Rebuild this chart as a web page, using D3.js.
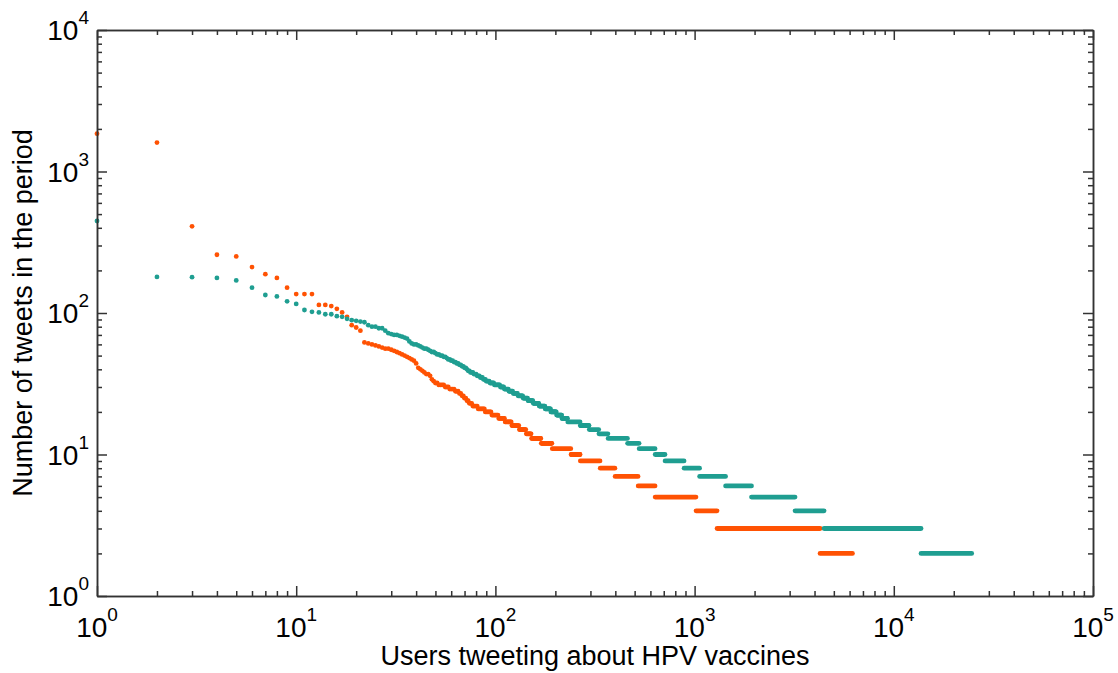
<!DOCTYPE html>
<html>
<head>
<meta charset="utf-8">
<script src="https://cdnjs.cloudflare.com/ajax/libs/d3/7.8.5/d3.min.js"></script>
<style>
  body { margin: 0; background: #fff; }
  text { font-family: "Liberation Sans", Arial, sans-serif; fill: #000; }
</style>
</head>
<body>
<svg id="chart" width="1118" height="673"></svg>
<script>
// rank plot: tweet count (descending) and how many users sent that many tweets
const orangeCounts = [1850, 1600, 410, 258, 251, 211, 188, 177, 151, 136, 114, 112, 107, 101, 94, 82, 79, 75,
  62, 61, 60, 59, 58, 57, 56, 55, 54, 53, 52, 51, 50, 49, 48, 47, 46, 44, 41, 40, 39, 38, 37, 36, 34, 33,
  32, 31, 30, 29, 28, 27, 26, 25, 24, 23, 22, 21, 20, 19, 18, 17, 16, 15, 14, 13, 12, 11, 10, 9, 8, 7, 6, 5, 4, 3, 2]
const orangeUsers = [1, 1, 1, 1, 1, 1, 1, 1, 1, 3, 2, 1, 1, 1, 1, 1, 1, 1,
  1, 1, 1, 1, 1, 1, 2, 1, 1, 1, 1, 1, 1, 1, 1, 1, 1, 1, 1, 1, 1, 1, 2, 1, 1, 1,
  2, 4, 3, 4, 3, 2, 2, 2, 2, 3, 5, 7, 7, 8, 8, 9, 11, 11, 9, 18, 23, 47, 27, 69, 63, 122, 113, 383, 280, 2969, 1935]

const tealCounts = [447, 180, 179, 177, 170, 151, 134, 131, 121, 116, 105, 102, 101, 98, 95, 94, 91, 89, 88, 87, 86, 82, 80, 78, 75,
  72, 71, 70, 69, 68, 67, 66, 63, 61, 60, 59, 58, 57, 56, 55, 54, 53, 52, 51, 50, 49, 48, 47, 46, 45, 44, 43, 42, 41, 40,
  39, 38, 37, 36, 35, 34, 33, 32, 31, 30, 29, 28, 27, 26, 25, 24, 23, 22, 21, 20, 19, 18, 17, 16, 15, 14, 13, 12, 11, 10,
  9, 8, 7, 6, 5, 4, 3, 2]
const tealUsers = [1, 1, 1, 1, 1, 1, 1, 1, 1, 1, 1, 1, 1, 2, 1, 1, 1, 1, 1, 1, 1, 1, 2, 2, 1,
  1, 1, 2, 1, 1, 1, 1, 1, 1, 2, 1, 1, 1, 2, 1, 1, 2, 1, 2, 2, 2, 1, 2, 2, 2, 2, 2, 2, 2, 1,
  2, 3, 3, 3, 3, 3, 4, 5, 7, 5, 6, 6, 7, 8, 8, 9, 11, 12, 12, 13, 13, 15, 36, 29, 35, 37, 93, 66, 107, 77,
  175, 174, 371, 500, 1263, 1273, 9234, 10900]

const xTickExps = [0, 1, 2, 3, 4, 5]
const yTickExps = [0, 1, 2, 3, 4]

const xTitle = 'Users tweeting about HPV vaccines'
const yTitle = 'Number of tweets in the period'

const WIDTH = 1118
const HEIGHT = 673
const MARGINS = { top: 30, right: 25, bottom: 77, left: 97 }
const DOT = 2.4
const ORANGE = '#ff5203'
const TEAL = '#1f9e91'
const AXIS = '#333'

const svg = d3.select('#chart')

const xScale = d3.scaleLog().domain([1, 1e5]).range([MARGINS.left, WIDTH - MARGINS.right])
const yScale = d3.scaleLog().domain([1, 1e4]).range([HEIGHT - MARGINS.bottom, MARGINS.top])

// turn the frequency table into rank ranges
function toSteps(counts, users) {
  let r = 1
  return counts.map((c, i) => {
    const s = { count: c, first: r, last: r + users[i] - 1 }
    r += users[i]
    return s
  })
}

function drawSeries(steps, color) {
  const g = svg.append('g')
  // short runs: one dot per user
  const pts = []
  steps.filter(s => s.last - s.first < 30).forEach(s => {
    d3.range(s.first, s.last + 1).forEach(r => pts.push({ rank: r, count: s.count }))
  })
  g.selectAll('circle').data(pts).join('circle')
    .attr('cx', d => xScale(d.rank))
    .attr('cy', d => yScale(d.count))
    .attr('r', DOT)
    .attr('fill', color)
  // long runs: dots merge into a bar
  g.selectAll('line').data(steps.filter(s => s.last - s.first >= 30)).join('line')
    .attr('x1', d => xScale(d.first))
    .attr('x2', d => xScale(d.last))
    .attr('y1', d => yScale(d.count))
    .attr('y2', d => yScale(d.count))
    .attr('stroke', color)
    .attr('stroke-width', DOT * 2)
    .attr('stroke-linecap', 'round')
}

drawSeries(toSteps(orangeCounts, orangeUsers), ORANGE)
drawSeries(toSteps(tealCounts, tealUsers), TEAL)

// axes on all four sides, ticks pointing inward
const xAll = xScale.ticks()
const yAll = yScale.ticks()
const xMajor = xTickExps.map(e => Math.pow(10, e))
const yMajor = yTickExps.map(e => Math.pow(10, e))
const xMinor = xAll.filter(v => xMajor.indexOf(v) < 0)
const yMinor = yAll.filter(v => yMajor.indexOf(v) < 0)

const bottom = HEIGHT - MARGINS.bottom
const right = WIDTH - MARGINS.right

function addAxis(axisFn, scale, transform, values, size) {
  const g = svg.append('g')
    .attr('transform', transform)
    .call(axisFn(scale).tickValues(values).tickSize(-size).tickSizeOuter(0).tickFormat(''))
  g.selectAll('line').attr('stroke', AXIS).attr('stroke-width', 1.5)
  g.select('.domain').attr('stroke', AXIS).attr('stroke-width', 1.5)
}

addAxis(d3.axisBottom, xScale, 'translate(0,' + bottom + ')', xMajor, 10)
addAxis(d3.axisBottom, xScale, 'translate(0,' + bottom + ')', xMinor, 5)
addAxis(d3.axisTop, xScale, 'translate(0,' + MARGINS.top + ')', xMajor, 10)
addAxis(d3.axisTop, xScale, 'translate(0,' + MARGINS.top + ')', xMinor, 5)
addAxis(d3.axisLeft, yScale, 'translate(' + MARGINS.left + ',0)', yMajor, 10)
addAxis(d3.axisLeft, yScale, 'translate(' + MARGINS.left + ',0)', yMinor, 5)
addAxis(d3.axisRight, yScale, 'translate(' + right + ',0)', yMajor, 10)
addAxis(d3.axisRight, yScale, 'translate(' + right + ',0)', yMinor, 5)

// power-of-ten tick labels
function powLabel(sel, e) {
  sel.append('tspan').attr('font-size', 28).text('10')
  sel.append('tspan').attr('font-size', 19).attr('dy', -16).text(e)
}

xTickExps.forEach(e => {
  svg.append('text')
    .attr('x', xScale(Math.pow(10, e)))
    .attr('y', 637)
    .attr('text-anchor', 'middle')
    .call(powLabel, e)
})

yTickExps.forEach(e => {
  svg.append('text')
    .attr('x', 89)
    .attr('y', yScale(Math.pow(10, e)) + 10)
    .attr('text-anchor', 'end')
    .call(powLabel, e)
})

svg.append('text')
  .attr('x', (MARGINS.left + right) / 2)
  .attr('y', 665)
  .attr('text-anchor', 'middle')
  .attr('font-size', 27)
  .text(xTitle)

svg.append('text')
  .attr('transform', 'translate(32,' + (MARGINS.top + bottom) / 2 + ') rotate(-90)')
  .attr('text-anchor', 'middle')
  .attr('font-size', 27)
  .text(yTitle)
</script>
</body>
</html>
